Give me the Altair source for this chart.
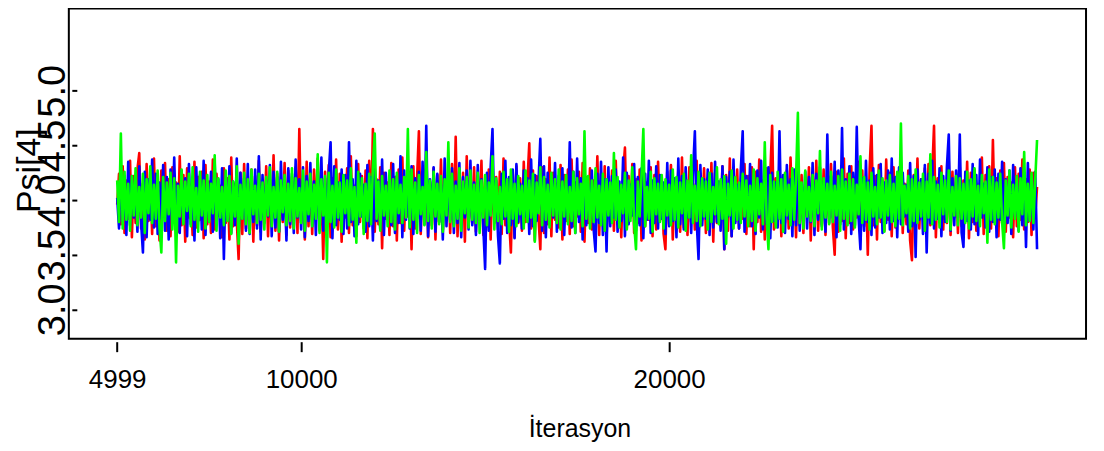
import altair as alt
import pandas as pd

chains = ["chain1", "chain2", "chain3"]
chain_colors = ["#FF0000", "#0000FF", "#00FF00"]

# iteration numbers (thinned: one point every 50 iterations)
iterations = list(range(4999, 30000, 50))

red = [
    3.96, 4.24, 3.78, 4.31, 3.70, 4.18, 3.83, 4.36, 3.66, 4.22, 3.79, 4.28, 4.43, 3.74, 4.15, 3.64, 4.33, 3.81, 4.20, 3.69,
    4.38, 3.76, 4.12, 3.63, 4.27, 3.85, 4.34, 3.72, 4.19, 3.67, 4.30, 3.80, 4.16, 3.71, 4.40, 3.77, 4.23, 3.62, 4.29, 3.84,
    4.14, 3.68, 4.35, 3.75, 4.21, 3.82, 4.26, 3.65, 4.32, 3.78, 4.17, 3.70, 4.37, 3.73, 4.24, 3.86, 4.13, 3.66, 4.29, 3.79,
    4.20, 3.64, 4.39, 3.76, 4.15, 3.81, 3.46, 4.25, 3.69, 4.33, 3.74, 4.18, 3.83, 4.28, 3.62, 4.22, 3.77, 4.36, 3.71, 4.14,
    3.85, 4.31, 3.67, 4.19, 3.78, 4.41, 3.72, 4.24, 3.63, 4.16, 3.80, 4.34, 3.68, 4.27, 3.75, 4.21, 3.82, 4.30, 3.70, 4.65,
    3.79, 4.17, 3.64, 4.35, 3.76, 4.23, 3.69, 4.28, 3.83, 4.38, 3.72, 4.15, 3.46, 4.26, 3.78, 4.32, 3.66, 4.20, 3.81, 4.37,
    3.73, 4.24, 3.62, 4.18, 3.84, 4.29, 3.70, 4.40, 3.77, 4.13, 3.67, 4.33, 3.80, 4.22, 3.74, 4.27, 3.65, 4.36, 3.82, 4.65,
    3.71, 4.19, 3.78, 4.30, 3.56, 4.25, 3.83, 4.16, 3.68, 4.34, 3.76, 4.21, 3.63, 4.28, 3.79, 4.39, 3.72, 4.14, 3.85, 4.26,
    3.55, 4.31, 3.74, 4.20, 4.63, 3.69, 4.24, 3.81, 4.35, 3.66, 4.17, 3.77, 4.29, 3.64, 4.23, 3.80, 4.37, 3.73, 4.15, 3.84,
    4.27, 3.70, 4.33, 3.78, 4.58, 3.67, 4.19, 3.82, 4.25, 3.62, 4.40, 3.75, 4.16, 3.79, 4.30, 3.71, 4.22, 3.85, 4.36, 3.68,
    4.18, 3.76, 4.28, 3.64, 4.34, 3.81, 4.21, 3.73, 4.26, 3.69, 4.38, 3.77, 4.14, 3.83, 3.52, 4.24, 3.66, 4.31, 3.79, 4.20,
    3.72, 4.35, 3.80, 4.17, 4.52, 3.74, 4.27, 3.63, 4.22, 3.84, 3.55, 4.30, 3.70, 4.19, 3.78, 4.39, 3.67, 4.25, 3.82, 4.15,
    3.75, 4.32, 3.64, 4.23, 3.81, 4.28, 3.69, 4.37, 3.76, 4.16, 3.85, 4.26, 3.71, 4.34, 3.62, 4.21, 3.79, 4.29, 3.73, 4.18,
    3.83, 4.40, 3.68, 4.24, 3.77, 4.31, 3.65, 4.20, 3.80, 4.27, 3.72, 4.36, 3.78, 4.14, 3.66, 4.25, 4.48, 3.74, 4.22, 3.84,
    4.33, 3.70, 4.19, 3.79, 4.28, 3.63, 4.38, 3.76, 4.16, 3.82, 4.30, 3.67, 4.23, 3.73, 4.35, 3.81, 4.21, 3.69, 3.55, 4.26,
    3.78, 4.32, 3.64, 4.18, 3.84, 4.27, 3.71, 4.39, 3.75, 4.22, 3.68, 4.30, 3.80, 4.15, 3.73, 4.36, 3.66, 4.24, 3.82, 4.29,
    3.70, 4.20, 3.77, 4.34, 3.62, 4.25, 3.79, 4.17, 3.85, 4.31, 3.55, 4.23, 3.72, 4.38, 3.67, 4.19, 3.81, 4.28, 3.74, 4.14,
    3.83, 4.33, 3.69, 4.22, 3.76, 4.30, 3.55, 4.26, 3.80, 4.37, 3.71, 4.18, 3.64, 4.29, 3.78, 4.24, 4.68, 3.73, 4.20, 3.84,
    4.32, 3.67, 4.16, 3.79, 4.27, 3.74, 4.39, 3.82, 4.21, 3.66, 4.34, 3.77, 4.23, 3.70, 4.15, 3.85, 4.30, 3.63, 4.25, 3.80,
    4.36, 3.72, 4.19, 3.78, 4.28, 3.68, 4.22, 3.83, 4.33, 3.75, 3.50, 4.26, 3.71, 4.17, 3.81, 4.38, 3.65, 4.24, 3.79, 4.31,
    3.73, 4.20, 3.84, 4.35, 3.69, 4.27, 3.76, 4.16, 3.50, 4.29, 4.68, 3.77, 4.22, 3.64, 4.32, 3.80, 4.18, 3.72, 4.37, 3.82,
    4.25, 3.67, 4.30, 3.75, 4.21, 3.83, 4.34, 3.70, 4.15, 3.78, 4.27, 3.63, 3.45, 4.23, 3.81, 4.38, 3.74, 4.19, 3.86, 4.29,
    3.71, 4.33, 3.77, 4.24, 4.68, 3.66, 4.20, 3.82, 4.31, 3.73, 4.17, 3.79, 4.36, 3.68, 4.26, 3.84, 4.22, 3.70, 4.30, 3.76,
    4.18, 3.83, 4.35, 3.65, 4.25, 3.80, 4.28, 3.72, 4.14, 3.85, 4.39, 3.69, 4.23, 3.77, 4.31, 3.74, 4.55, 3.81, 4.20, 3.67,
    4.27, 3.79, 4.34, 3.71, 4.21, 3.84, 4.16, 3.66, 4.30, 3.76, 4.24, 3.82, 4.37, 3.73, 4.19, 3.80, 4.28, 3.68, 4.25, 3.86,
    4.12,
]

blue = [
    4.02, 3.74, 4.29, 3.81, 4.17, 3.68, 4.35, 3.77, 4.22, 3.84, 4.13, 3.71, 4.31, 3.79, 3.52, 4.26, 3.66, 4.19, 3.82, 4.37,
    3.75, 4.24, 3.69, 4.16, 3.83, 4.32, 3.72, 4.21, 3.64, 4.28, 3.80, 4.39, 3.76, 4.15, 3.70, 4.27, 3.85, 4.20, 3.67, 4.33,
    3.78, 4.18, 3.63, 4.30, 3.81, 4.23, 3.73, 4.36, 3.68, 4.14, 3.84, 4.26, 3.71, 4.34, 3.79, 4.19, 3.65, 4.29, 3.46, 4.22,
    3.82, 4.31, 3.70, 4.17, 3.77, 4.38, 3.66, 4.25, 3.83, 4.20, 3.72, 4.33, 3.69, 4.15, 3.80, 4.28, 3.74, 4.40, 3.64, 4.23,
    3.79, 4.18, 3.85, 4.32, 3.67, 4.26, 3.75, 4.21, 3.71, 4.35, 3.82, 4.16, 3.63, 4.29, 3.78, 4.24, 3.70, 4.37, 3.84, 4.19,
    3.73, 4.30, 3.66, 4.22, 3.81, 4.34, 3.76, 4.17, 3.68, 4.27, 3.83, 4.39, 3.72, 4.20, 3.79, 4.25, 4.53, 3.65, 4.31, 3.77,
    4.16, 3.82, 4.28, 3.69, 4.23, 3.74, 4.53, 3.80, 4.19, 3.67, 4.36, 3.78, 4.24, 3.85, 4.14, 3.71, 4.32, 3.76, 4.21, 3.63,
    4.29, 3.81, 4.18, 3.73, 4.37, 3.68, 4.25, 3.84, 4.15, 3.77, 4.33, 3.70, 4.22, 3.79, 4.40, 3.66, 4.27, 3.82, 4.17, 3.74,
    4.31, 3.69, 4.20, 3.83, 4.26, 3.72, 4.35, 3.78, 4.68, 3.67, 4.19, 3.85, 4.30, 3.71, 4.24, 3.80, 4.14, 3.64, 4.38, 3.76,
    4.23, 3.82, 4.29, 3.70, 4.17, 3.79, 4.34, 3.66, 4.21, 3.84, 4.27, 3.73, 4.36, 3.77, 4.16, 3.68, 4.32, 3.81, 4.19, 3.75,
    3.37, 4.25, 3.72, 4.30, 4.65, 3.79, 4.18, 3.67, 3.42, 4.24, 3.83, 4.36, 3.70, 4.21, 3.77, 4.28, 3.65, 4.33, 3.80, 4.15,
    3.74, 4.27, 3.85, 4.20, 3.69, 4.37, 3.76, 4.23, 3.81, 4.16, 4.56, 3.72, 4.31, 3.66, 4.25, 3.79, 4.19, 3.84, 4.34, 3.71,
    4.22, 3.78, 4.29, 3.68, 4.17, 3.82, 4.53, 3.75, 4.26, 3.70, 4.38, 3.80, 4.20, 3.64, 4.32, 3.77, 4.15, 3.83, 4.27, 3.73,
    3.53, 4.24, 3.79, 4.35, 3.68, 4.19, 3.53, 4.30, 3.76, 4.22, 3.84, 4.28, 3.71, 4.17, 3.81, 4.39, 3.67, 4.25, 3.78, 4.14,
    3.86, 4.33, 3.72, 4.21, 3.77, 4.29, 3.65, 4.24, 3.82, 4.36, 3.70, 4.18, 3.79, 4.31, 3.74, 4.23, 3.83, 4.16, 3.69, 4.34,
    3.76, 4.27, 3.81, 4.20, 3.66, 4.38, 3.78, 4.22, 3.73, 4.30, 3.84, 4.15, 3.70, 4.26, 4.63, 3.80, 3.46, 4.32, 3.77, 4.19,
    3.83, 4.28, 3.68, 4.24, 3.75, 4.35, 3.80, 4.17, 3.72, 4.31, 3.55, 4.21, 3.85, 4.26, 3.67, 4.37, 3.79, 4.14, 3.74, 4.29,
    4.63, 3.71, 4.22, 3.82, 4.33, 3.76, 4.18, 3.69, 4.27, 3.84, 4.36, 3.73, 4.20, 3.78, 4.30, 3.65, 4.25, 3.81, 4.16, 3.75,
    4.63, 3.79, 4.23, 3.70, 4.32, 3.83, 4.19, 3.67, 4.28, 3.77, 4.38, 3.72, 4.15, 3.85, 4.26, 3.74, 4.21, 3.80, 4.34, 3.68,
    4.24, 3.82, 4.30, 3.76, 4.17, 3.71, 4.60, 3.79, 4.22, 3.84, 4.35, 3.66, 4.27, 3.78, 4.66, 3.73, 4.19, 3.81, 4.31, 3.69,
    4.25, 3.77, 4.67, 3.83, 3.55, 4.20, 3.72, 4.36, 3.80, 4.18, 3.68, 4.29, 3.75, 4.23, 3.84, 4.33, 3.70, 4.16, 3.79, 4.27,
    3.73, 4.38, 3.81, 4.21, 3.66, 4.30, 3.78, 4.25, 3.85, 4.14, 3.71, 4.34, 3.76, 4.22, 3.48, 4.28, 3.82, 4.19, 3.69, 4.32,
    3.52, 4.24, 3.79, 4.36, 3.74, 4.17, 3.83, 4.29, 3.67, 4.22, 3.80, 4.31, 4.60, 3.72, 4.20, 3.77, 4.27, 3.84, 4.60, 3.70,
    3.57, 4.26, 3.81, 4.18, 3.73, 4.33, 3.78, 4.23, 3.68, 4.37, 3.84, 4.15, 3.75, 4.30, 3.71, 4.21, 3.80, 4.28, 3.66, 4.24,
    3.82, 4.35, 3.74, 4.19, 3.79, 4.27, 3.69, 4.32, 3.85, 4.16, 3.72, 4.29, 3.77, 4.22, 3.57, 4.34, 3.81, 4.18, 3.73, 4.26,
    3.55,
]

green = [
    4.18, 3.80, 4.61, 3.74, 4.26, 3.82, 4.15, 3.72, 4.22, 3.86, 4.29, 3.77, 4.12, 3.84, 4.24, 3.70, 4.19, 3.88, 4.31, 3.79,
    4.14, 3.83, 4.27, 3.75, 3.52, 4.21, 3.81, 4.16, 3.87, 4.25, 3.73, 4.20, 3.43, 4.13, 3.85, 4.28, 3.78, 4.17, 3.90, 4.24,
    3.76, 4.30, 3.82, 4.11, 3.71, 4.26, 3.86, 4.18, 3.74, 4.23, 3.80, 4.15, 3.88, 4.41, 3.72, 4.20, 3.84, 4.12, 3.77, 4.27,
    3.81, 4.22, 3.69, 4.17, 3.85, 4.31, 3.60, 4.14, 3.83, 4.25, 3.78, 4.19, 3.70, 4.28, 3.87, 4.13, 3.79, 4.24, 3.82, 4.16,
    3.73, 4.21, 3.86, 4.30, 3.76, 4.12, 3.84, 4.26, 3.71, 4.18, 3.89, 4.23, 3.77, 4.15, 3.81, 4.29, 3.74, 4.20, 3.85, 4.11,
    3.79, 4.27, 3.72, 4.17, 3.87, 4.24, 3.76, 4.14, 3.83, 4.42, 3.70, 4.19, 3.86, 4.22, 3.43, 4.25, 3.80, 4.13, 3.75, 4.28,
    3.84, 4.16, 3.71, 4.23, 3.88, 4.18, 3.77, 4.29, 3.82, 4.12, 3.61, 4.26, 3.85, 4.20, 3.69, 4.15, 3.81, 4.24, 3.78, 4.31,
    4.61, 3.83, 4.17, 3.72, 4.22, 3.86, 4.13, 3.76, 4.27, 3.80, 4.19, 3.73, 4.25, 3.88, 4.14, 3.79, 4.21, 3.84, 4.65, 3.75,
    4.28, 3.82, 4.16, 3.70, 4.23, 3.87, 4.12, 3.77, 4.44, 3.81, 4.18, 3.74, 4.26, 3.85, 4.15, 3.78, 4.22, 3.71, 4.19, 3.86,
    4.53, 3.80, 4.24, 3.76, 4.13, 3.83, 4.29, 3.72, 4.17, 3.88, 4.21, 3.75, 4.27, 3.82, 4.14, 3.79, 4.25, 3.70, 4.18, 3.84,
    4.23, 3.77, 4.16, 3.86, 4.40, 3.73, 4.20, 3.81, 4.12, 3.78, 4.26, 3.85, 4.19, 3.71, 4.28, 3.83, 4.15, 3.76, 4.22, 3.87,
    4.13, 3.74, 4.27, 3.80, 4.18, 3.84, 4.24, 3.62, 4.16, 3.88, 4.30, 3.77, 4.21, 3.82, 4.14, 3.75, 4.25, 3.86, 4.19, 3.79,
    4.28, 3.73, 4.17, 3.85, 4.23, 3.78, 4.12, 3.81, 4.26, 3.70, 4.20, 3.87, 4.15, 3.76, 4.63, 3.83, 4.22, 3.74, 4.18, 3.80,
    4.29, 3.84, 4.13, 3.77, 4.24, 3.72, 4.19, 3.86, 4.16, 3.79, 4.43, 3.82, 4.21, 3.75, 4.14, 3.88, 4.25, 3.73, 4.18, 3.81,
    4.30, 3.78, 3.55, 4.17, 3.85, 4.22, 4.65, 3.76, 4.12, 3.83, 4.26, 3.71, 4.20, 3.87, 4.15, 3.80, 4.23, 3.74, 4.19, 3.86,
    4.14, 3.77, 4.28, 3.82, 4.21, 3.75, 4.16, 3.88, 4.24, 3.72, 4.18, 3.84, 4.41, 3.79, 4.13, 3.81, 4.26, 3.76, 4.20, 3.85,
    4.17, 3.73, 4.25, 3.80, 4.12, 3.87, 4.30, 3.78, 4.19, 3.83, 4.22, 3.60, 4.15, 3.86, 4.27, 3.74, 4.21, 3.82, 4.16, 3.79,
    4.24, 3.85, 4.18, 3.76, 4.13, 3.81, 4.28, 3.72, 4.20, 3.87, 4.15, 3.78, 4.53, 3.84, 3.55, 4.23, 3.80, 4.17, 3.75, 4.26,
    3.83, 4.19, 3.71, 4.25, 3.86, 4.14, 3.77, 4.29, 3.82, 4.21, 4.80, 3.79, 4.16, 3.74, 4.27, 3.85, 4.12, 3.81, 4.23, 3.76,
    4.18, 3.88, 4.45, 3.73, 4.20, 3.84, 4.15, 3.78, 4.26, 3.80, 4.13, 3.86, 4.22, 3.72, 4.28, 3.83, 4.17, 3.77, 4.24, 3.81,
    4.19, 3.75, 4.14, 3.87, 4.40, 3.79, 4.21, 3.82, 4.16, 3.73, 4.25, 3.85, 4.12, 3.78, 4.27, 3.84, 4.20, 3.71, 4.18, 3.86,
    4.23, 3.80, 4.15, 3.76, 4.26, 3.83, 4.70, 3.77, 4.13, 3.88, 4.22, 3.74, 4.19, 3.81, 4.28, 3.79, 4.16, 3.85, 4.24, 3.72,
    4.17, 3.84, 4.42, 3.78, 4.21, 3.82, 4.14, 3.75, 4.25, 3.87, 4.18, 3.80, 4.27, 3.73, 4.12, 3.86, 4.22, 3.77, 4.20, 3.83,
    4.15, 3.79, 4.26, 3.74, 4.19, 3.85, 4.29, 3.81, 4.13, 3.76, 4.23, 3.88, 4.17, 3.61, 4.28, 3.82, 4.21, 3.78, 4.16, 3.84,
    4.24, 3.80, 3.56, 4.18, 3.86, 4.27, 3.75, 4.14, 3.83, 4.22, 3.71, 4.20, 3.87, 4.44, 3.77, 4.15, 3.81, 4.25, 3.79, 4.18,
    4.55,
]

x_ticks = [4999, 10000, 20000]
y_ticks = [3.0, 3.5, 4.0, 4.5, 5.0]

series = [red, blue, green]
frames = []
for name, vals in zip(chains, series):
    frames.append(pd.DataFrame({"iter": iterations[: len(vals)], "value": vals, "chain": name}))
df = pd.concat(frames, ignore_index=True)

x_enc = alt.X(
    "iter:Q",
    scale=alt.Scale(domain=[3685, 31330], nice=False, zero=False),
    axis=alt.Axis(
        values=x_ticks,
        format="d",
        title="İterasyon",
        domain=False,
        grid=False,
        offset=3,
        tickSize=10,
        tickWidth=2,
        tickColor="black",
        labelFont="Liberation Sans",
        labelFontSize=26,
        labelColor="black",
        labelBaseline="alphabetic",
        labelPadding=36,
        titleFont="Liberation Sans",
        titleFontSize=25,
        titleFontWeight="normal",
        titleColor="black",
        titleBaseline="alphabetic",
        titleY=95,
        titleX=512,
    ),
)

y_enc = alt.Y(
    "value:Q",
    scale=alt.Scale(domain=[2.731, 5.753], nice=False, zero=False),
    axis=alt.Axis(
        values=y_ticks,
        format=".1f",
        title="Psi[4]",
        domain=False,
        grid=False,
        offset=-8,
        tickSize=5,
        tickWidth=2,
        tickColor="black",
        labelAngle=270,
        labelAlign="center",
        labelBaseline="alphabetic",
        labelPadding=7,
        labelFont="Liberation Sans",
        labelFontSize=38,
        labelColor="black",
        labelOverlap=False,
        titleFont="Liberation Sans",
        titleFontSize=34,
        titleFontWeight="normal",
        titleColor="black",
        titleAngle=270,
        titleAlign="center",
        titleBaseline="alphabetic",
        titleX=-37,
        titleY=162,
    ),
)

layers = []
for name, col in zip(chains, chain_colors):
    layers.append(
        alt.Chart(df)
        .transform_filter(alt.datum.chain == name)
        .mark_line(color=col, strokeWidth=2.6, strokeJoin="round")
        .encode(x=x_enc, y=y_enc, order="iter:Q")
    )

chart = (
    alt.layer(*layers)
    .properties(
        width=1020,
        height=331,
        autosize=alt.AutoSizeParams(type="none"),
        padding={"left": 61, "top": 0, "right": 10, "bottom": 110},
        background="white",
    )
    .configure_view(stroke="black", strokeWidth=2)
)

chart.save("out.html", embed_options={"renderer": "svg", "actions": False})
